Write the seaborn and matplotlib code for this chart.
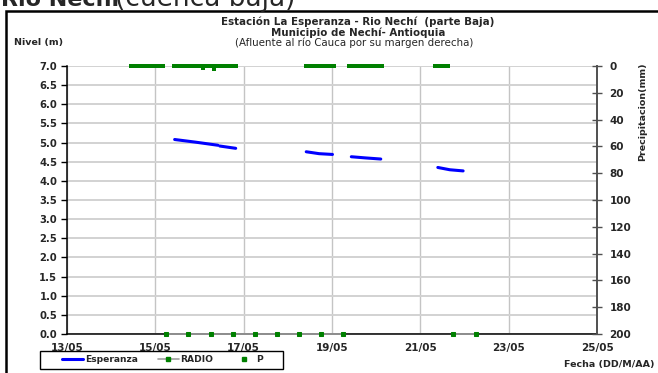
import pandas as pd
import numpy as np
import matplotlib
matplotlib.use('Agg')
import matplotlib.pyplot as plt
import matplotlib.dates as mdates
from matplotlib.lines import Line2D
from matplotlib.patches import Rectangle
import seaborn as sns

# nivel estacion Esperanza (m), por tramos
esp_tramo = [1, 1, 1, 2, 2, 3, 3, 3, 4, 4, 4, 5, 5, 5]
esp_fecha = ['2010-05-15 10:30', '2010-05-15 22:00', '2010-05-16 10:00',
             '2010-05-16 11:00', '2010-05-16 19:40',
             '2010-05-18 10:00', '2010-05-18 17:00', '2010-05-19 00:15',
             '2010-05-19 10:30', '2010-05-19 18:00', '2010-05-20 02:30',
             '2010-05-21 09:30', '2010-05-21 16:00', '2010-05-21 23:15']
esp_nivel = [5.08, 5.01, 4.93,
             4.91, 4.85,
             4.76, 4.71, 4.69,
             4.63, 4.60, 4.57,
             4.35, 4.29, 4.26]

# lecturas RADIO (m)
radio_tramo = [1, 1, 1, 1, 1, 1, 1, 1, 1, 2, 2]
radio_fecha = ['2010-05-15 06:00', '2010-05-15 18:00', '2010-05-16 06:00',
               '2010-05-16 18:00', '2010-05-17 06:00', '2010-05-17 18:00',
               '2010-05-18 06:00', '2010-05-18 18:00', '2010-05-19 06:00',
               '2010-05-21 18:00', '2010-05-22 06:00']
radio_nivel = [0.0, 0.0, 0.0, 0.0, 0.0, 0.0, 0.0, 0.0, 0.0, 0.0, 0.0]

# precipitacion P (mm): tramos con registro horario (todo 0 salvo dos lecturas)
p_inicio = ['2010-05-14 11:00', '2010-05-15 10:00', '2010-05-18 10:00',
            '2010-05-19 09:00', '2010-05-21 08:00']
p_fin = ['2010-05-15 04:00', '2010-05-16 20:00', '2010-05-19 01:00',
         '2010-05-20 03:00', '2010-05-21 15:00']
p_lluvia_fecha = ['2010-05-16 02:00', '2010-05-16 08:00']
p_lluvia_mm = [1.5, 2.5]

esp = pd.DataFrame({'tramo': esp_tramo, 'fecha': pd.to_datetime(esp_fecha), 'nivel': esp_nivel})
radio = pd.DataFrame({'tramo': radio_tramo, 'fecha': pd.to_datetime(radio_fecha), 'nivel': radio_nivel})

horas = pd.DatetimeIndex([])
for ini, fin in zip(p_inicio, p_fin):
    horas = horas.append(pd.date_range(ini, fin, freq='h'))
p = pd.DataFrame({'fecha': horas, 'P': 0.0})
for f, v in zip(p_lluvia_fecha, p_lluvia_mm):
    p.loc[p['fecha'] == pd.Timestamp(f), 'P'] = v

sns.set_style('white')
plt.rcParams['font.family'] = ['DejaVu Sans']

fig = plt.figure(figsize=(6.58, 3.73), dpi=100)
W, H = 658, 373
ax = fig.add_axes([67 / W, 1 - 334 / H, (597 - 67) / W, (334 - 66) / H])

# lineas
sns.lineplot(data=esp, x='fecha', y='nivel', units='tramo', estimator=None,
             color='#0000ff', lw=2.2, legend=False, ax=ax)
sns.lineplot(data=radio, x='fecha', y='nivel', units='tramo', estimator=None,
             color='#a0a0a0', lw=1.2, marker='s', markersize=2.2,
             markerfacecolor='#008000', markeredgecolor='#008000',
             legend=False, ax=ax, clip_on=False, zorder=5)

ax.set_xlim(pd.Timestamp('2010-05-13'), pd.Timestamp('2010-05-25'))
ax.set_ylim(0, 7)
ax.set_yticks(np.arange(0, 7.01, 0.5))
ax.set_yticklabels([f'{v:.1f}' for v in np.arange(0, 7.01, 0.5)])
ax.xaxis.set_major_locator(mdates.DayLocator(bymonthday=[13, 15, 17, 19, 21, 23, 25]))
ax.xaxis.set_major_formatter(mdates.DateFormatter('%d/%m'))
ax.set_xlabel('')
ax.set_ylabel('')

ax.yaxis.grid(True, color='#d2d2d2', lw=1.4)
ax.xaxis.grid(True, color='#c4c4c4', lw=1.0)
ax.set_axisbelow(True)
for s in ['top', 'right']:
    ax.spines[s].set_visible(False)
for s in ['left', 'bottom']:
    ax.spines[s].set_color('black')
    ax.spines[s].set_linewidth(1.1)
ax.tick_params(axis='y', direction='out', length=4, width=1, pad=3, labelsize=7.2, color='black')
ax.tick_params(axis='x', direction='out', length=3, width=1, pad=3.5, labelsize=7.5, color='black')
for lab in ax.get_xticklabels() + ax.get_yticklabels():
    lab.set_fontweight('bold')

# eje de precipitacion
ax2 = ax.twinx()
sns.scatterplot(data=p, x='fecha', y='P', color='#008000', marker='s', s=5,
                linewidth=0, legend=False, ax=ax2, clip_on=False, zorder=6)
ax2.set_ylim(200, 0)
ax2.set_yticks(np.arange(0, 201, 20))
ax2.set_ylabel('')
for s in ['top', 'left', 'bottom']:
    ax2.spines[s].set_visible(False)
ax2.spines['right'].set_color('#505050')
ax2.spines['right'].set_linewidth(1.4)
ax2.tick_params(axis='y', direction='inout', length=7, width=1, pad=5.5, labelsize=7.5, color='#505050')
for lab in ax2.get_yticklabels():
    lab.set_fontweight('bold')

# textos
fig.text(358 / W, 1 - 22 / H, 'Estación La Esperanza - Rio Nechí  (parte Baja)',
         ha='center', va='center', fontsize=7.4, fontweight='bold')
fig.text(358 / W, 1 - 32.5 / H, 'Municipio de Nechí- Antioquia',
         ha='center', va='center', fontsize=7.4, fontweight='bold')
fig.text(354 / W, 1 - 43 / H, '(Afluente al río Cauca por su margen derecha)',
         ha='center', va='center', fontsize=7.4)
fig.text(14 / W, 1 - 43 / H, 'Nivel (m)', ha='left', va='center', fontsize=6.8, fontweight='bold')
fig.text(655 / W, 1 - 364 / H, 'Fecha (DD/M/AA)', ha='right', va='center', fontsize=6.8, fontweight='bold')
fig.text(643 / W, 1 - 112 / H, 'Precipitacion(mm)', ha='center', va='center',
         rotation=90, fontsize=6.8, fontweight='bold')

# titulo superior recortado
fig.text(1 / W, 1 - 6.5 / H, 'Rio Nechí', ha='left', va='baseline', fontsize=16, fontweight='bold')
fig.text(115 / W, 1 - 6.5 / H, '(cuenca baja)', ha='left', va='baseline', fontsize=19)

# marco
fig.patches.append(Rectangle((6 / W, -0.2), 1.5, 1 - 10.5 / H + 0.2, transform=fig.transFigure,
                             fill=False, edgecolor='black', lw=1.8))

# leyenda (caja aparte)
fig.patches.append(Rectangle((40 / W, 1 - 369 / H), (283 - 40) / W, 18 / H, transform=fig.transFigure,
                             fill=True, facecolor='white', edgecolor='black', lw=1.0, zorder=3))
handles = [Line2D([], [], color='#0000ff', lw=2.2),
           Line2D([], [], color='#a0a0a0', lw=1.2, marker='s', markersize=2.2,
                  markerfacecolor='#008000', markeredgecolor='#008000'),
           Line2D([], [], color='#008000', lw=0, marker='s', markersize=2.2)]
leg = fig.legend(handles, ['Esperanza', 'RADIO', 'P'], loc='center',
                 bbox_to_anchor=(162.5 / W, 1 - 360 / H), ncol=3, frameon=False,
                 fontsize=6.6, handlelength=2.3, handletextpad=0.15,
                 columnspacing=2.2, borderpad=0.1, borderaxespad=0)
leg.set_zorder(4)
for t in leg.get_texts():
    t.set_fontweight('bold')

fig.savefig('out.png', dpi=100)
